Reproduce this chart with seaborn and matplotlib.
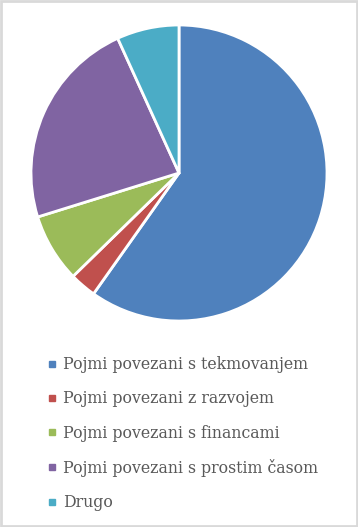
import matplotlib
matplotlib.use('Agg')
import matplotlib.pyplot as plt
import seaborn as sns
from matplotlib.lines import Line2D

# Data (percent shares)
labels = ['Pojmi povezani s tekmovanjem', 'Pojmi povezani z razvojem',
          'Pojmi povezani s financami', 'Pojmi povezani s prostim časom', 'Drugo']
shares = [59.8, 2.9, 7.5, 23.0, 6.8]
colors = ['#4F81BD', '#C0504D', '#9BBB59', '#8064A2', '#4BACC6']

sns.set_theme(style='white')
plt.rcParams['font.family'] = ['DejaVu Serif', 'DejaVu Sans']

W, H = 358, 527
fig = plt.figure(figsize=(W / 100, H / 100), dpi=100)
fig.patch.set_facecolor('white')

# Pie axes: centre (179, 173) px, radius 148 px
cx, cy, r = 179, 173, 148
ax = fig.add_axes([(cx - r) / W, (H - cy - r) / H, 2 * r / W, 2 * r / H])
ax.pie(shares, colors=colors, startangle=90, counterclock=False,
       wedgeprops=dict(edgecolor='white', linewidth=2))
ax.set_aspect('auto')
ax.set_xlim(-1, 1)
ax.set_ylim(-1, 1)
ax.axis('off')

# Legend with small square markers
handles = [Line2D([0], [0], marker='s', linestyle='none', markersize=5,
                  markerfacecolor=c, markeredgecolor=c) for c in colors]
leg = fig.legend(handles, labels, loc='upper left',
                 bbox_to_anchor=(33 / W, 1 - 342 / H), frameon=False,
                 fontsize=11.3, labelcolor='#595959', handlelength=0.6,
                 handletextpad=0.4, labelspacing=1.1)

# Chart border
border = plt.Rectangle((0.002, 0.002), 0.996, 0.996, transform=fig.transFigure,
                       fill=False, edgecolor='#d9d9d9', linewidth=2)
fig.patches.append(border)

fig.savefig('out.png', dpi=100)
